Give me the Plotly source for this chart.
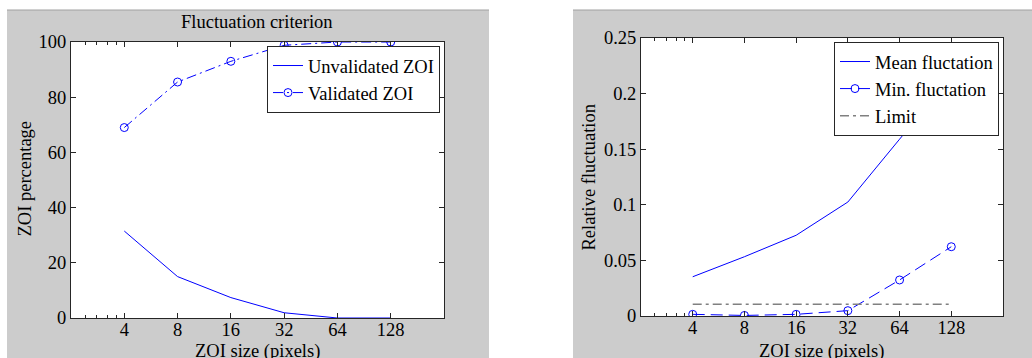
import plotly.graph_objects as go
import math

# ---- data ----
zoi_sizes = [4, 8, 16, 32, 64, 128]
unvalidated_zoi = [31.5, 15.0, 7.4, 1.9, 0.0, 0.0]
validated_zoi = [69.0, 85.5, 93.0, 98.8, 100.0, 100.0]

mean_fluct = [0.0353, 0.0533, 0.0726, 0.1025, 0.159, 0.215]
min_fluct = [0.0015, 0.0005, 0.0015, 0.0048, 0.0324, 0.0623]
limit_val = [0.0105, 0.0105, 0.0105, 0.0105, 0.0105, 0.0105]

x_ticks = [4, 8, 16, 32, 64, 128]
x_ticktext = ["4", "8", "16", "32", "64", "128"]
y1_ticks = [0, 20, 40, 60, 80, 100]
y2_ticks = [0, 0.05, 0.1, 0.15, 0.2, 0.25]
y2_ticktext = ["0", "0.05", "0.1", "0.15", "0.2", "0.25"]
minor_x = [2.4, 2.8, 3.2, 3.6]

W, H = 1032, 358
FONT = "Liberation Serif"
FS = 18.5
BLUE = "#0000ff"
AX = "#262626"

def px(x):
    return x / W

def py(y):
    return 1 - y / H

fig = go.Figure()

fig.add_trace(go.Scatter(x=zoi_sizes, y=unvalidated_zoi, mode="lines", name="Unvalidated ZOI",
                         line=dict(color=BLUE, width=1), xaxis="x", yaxis="y", legend="legend"))
fig.add_trace(go.Scatter(x=zoi_sizes, y=validated_zoi, mode="lines+markers", name="Validated ZOI",
                         line=dict(color=BLUE, width=1, dash="10px,4px,2px,4px"),
                         marker=dict(symbol="circle-open", size=8, color=BLUE, line=dict(width=1, color=BLUE)),
                         xaxis="x", yaxis="y", legend="legend"))

fig.add_trace(go.Scatter(x=zoi_sizes, y=mean_fluct, mode="lines", name="Mean fluctation",
                         line=dict(color=BLUE, width=1), xaxis="x2", yaxis="y2", legend="legend2"))
fig.add_trace(go.Scatter(x=zoi_sizes, y=min_fluct, mode="lines+markers", name="Min. fluctation",
                         line=dict(color=BLUE, width=1, dash="12px,6px"),
                         marker=dict(symbol="circle-open", size=8, color=BLUE, line=dict(width=1, color=BLUE)),
                         xaxis="x2", yaxis="y2", legend="legend2"))
fig.add_trace(go.Scatter(x=zoi_sizes, y=limit_val, mode="lines", name="Limit",
                         line=dict(color="#808080", width=1.5, dash="9px,4px,3px,4px"),
                         xaxis="x2", yaxis="y2", legend="legend2"))

xcommon = dict(type="log", range=[math.log10(2), math.log10(256)], tickvals=x_ticks, ticktext=x_ticktext,
               ticks="inside", ticklen=5, tickcolor=AX, showline=True, linecolor=AX, linewidth=1,
               mirror="ticks", showgrid=False, zeroline=False, automargin=False,
               ticklabelstandoff=-5,
               minor=dict(tickvals=minor_x, ticks="inside", ticklen=3, tickcolor=AX, showgrid=False),
               tickfont=dict(family=FONT, size=FS, color="black"))
ycommon = dict(ticks="inside", ticklen=5, tickcolor=AX, showline=True, linecolor=AX, linewidth=1,
               mirror="ticks", showgrid=False, zeroline=False, automargin=False,
               tickfont=dict(family=FONT, size=FS, color="black"))

fig.update_layout(
    width=W, height=H, margin=dict(l=0, r=0, t=0, b=0, autoexpand=False),
    paper_bgcolor="white", plot_bgcolor="white",
    font=dict(family=FONT, size=FS, color="black"),
    xaxis=dict(domain=[px(71), px(444)], anchor="y", **xcommon),
    yaxis=dict(domain=[py(318), py(42)], anchor="x", range=[0, 100], tickvals=y1_ticks, **ycommon),
    xaxis2=dict(domain=[px(641), px(1003)], anchor="y2", **xcommon),
    yaxis2=dict(domain=[py(316), py(38)], anchor="x2", range=[0, 0.25], tickvals=y2_ticks,
                ticktext=y2_ticktext, **ycommon),
    legend=dict(x=px(440), y=py(46), xanchor="right", yanchor="top", bgcolor="white",
                bordercolor=AX, borderwidth=1, font=dict(family=FONT, size=FS, color="black"),
                tracegroupgap=0),
    legend2=dict(x=px(999), y=py(42), xanchor="right", yanchor="top", bgcolor="white",
                 bordercolor=AX, borderwidth=1, font=dict(family=FONT, size=FS, color="black"),
                 tracegroupgap=0),
    showlegend=True,
)

shapes = [
    dict(type="rect", xref="paper", yref="paper", x0=px(7), x1=px(489), y0=0, y1=py(10),
         fillcolor="#cccccc", line=dict(width=0), layer="below"),
    dict(type="rect", xref="paper", yref="paper", x0=px(573), x1=1, y0=0, y1=py(10),
         fillcolor="#cccccc", line=dict(width=0), layer="below"),
    dict(type="line", xref="paper", yref="paper", x0=px(7), x1=px(489), y0=py(10), y1=py(10),
         line=dict(width=1, color="#a0a0a0"), layer="below"),
    dict(type="line", xref="paper", yref="paper", x0=px(573), x1=1, y0=py(10), y1=py(10),
         line=dict(width=1, color="#a0a0a0"), layer="below"),
    dict(type="rect", xref="x domain", yref="y domain", x0=0, x1=1, y0=0, y1=1,
         fillcolor="white", line=dict(width=0), layer="below"),
    dict(type="rect", xref="x2 domain", yref="y2 domain", x0=0, x1=1, y0=0, y1=1,
         fillcolor="white", line=dict(width=0), layer="below"),
]
fig.update_layout(shapes=shapes)

ann = [
    dict(text="Fluctuation criterion", x=px(256.5), y=py(22), xref="paper", yref="paper",
         showarrow=False, xanchor="center", yanchor="middle"),
    dict(text="ZOI percentage", x=px(24.5), y=py(179), xref="paper", yref="paper",
         showarrow=False, xanchor="center", yanchor="middle", textangle=-90),
    dict(text="ZOI size (pixels)", x=px(257.5), y=py(351), xref="paper", yref="paper",
         showarrow=False, xanchor="center", yanchor="middle"),
    dict(text="Relative fluctuation", x=px(588), y=py(177.5), xref="paper", yref="paper",
         showarrow=False, xanchor="center", yanchor="middle", textangle=-90),
    dict(text="ZOI size (pixels)", x=px(821.5), y=py(351), xref="paper", yref="paper",
         showarrow=False, xanchor="center", yanchor="middle"),
]
for a in ann:
    a["font"] = dict(family=FONT, size=FS, color="black")
fig.update_layout(annotations=ann)

fig.write_html("out.html", config={"responsive": False, "displayModeBar": False},
               post_script="document.body.style.margin='0';document.body.style.overflow='hidden';")
